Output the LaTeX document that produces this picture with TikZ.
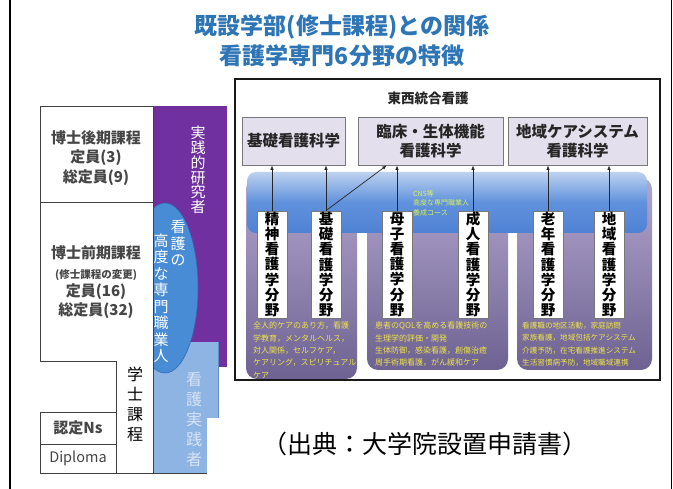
\documentclass[tikz,border=0pt]{standalone}
\usepackage{fontspec}
\setmainfont{Noto Sans CJK JP}
\usetikzlibrary{arrows.meta,calc}
\definecolor{titleblue}{RGB}{46,117,182}
\definecolor{vpurple}{RGB}{112,48,160}
\definecolor{mblue}{RGB}{72,140,214}
\definecolor{mbluedark}{RGB}{50,105,180}
\definecolor{lblue}{RGB}{141,180,226}
\definecolor{lbluedark}{RGB}{100,140,200}
\definecolor{boxfill}{RGB}{228,223,236}
\definecolor{boxline}{RGB}{120,120,120}
\definecolor{paneltop}{RGB}{178,165,206}
\definecolor{panelbot}{RGB}{110,98,146}
\definecolor{bandtop}{RGB}{190,210,240}
\definecolor{bandmid}{RGB}{95,145,220}
\definecolor{bandbot}{RGB}{80,130,212}
\definecolor{ylw}{RGB}{238,228,70}
\definecolor{cnsc}{RGB}{215,240,90}
\definecolor{tblgray}{RGB}{70,70,70}
\definecolor{lighttxt}{RGB}{215,228,245}
\tikzset{
  ttl/.style={font=\fontsize{23}{27}\selectfont\bfseries, text=titleblue, inner sep=0pt},
  tbl/.style={draw=black!75, line width=0.8pt},
  tbltxt/.style={font=\fontsize{15}{19.3}\selectfont\bfseries, text=tblgray, inner sep=0pt, align=center},
  vt/.style 2 args={font=\fontsize{#1}{#2}\selectfont, align=center, inner sep=0pt},
  topbox/.style={draw=boxline, fill=boxfill, line width=0.8pt, align=center,
     font=\fontsize{15.5}{19}\selectfont\bfseries, text=black!85, minimum height=48pt, inner sep=0pt},
  fieldbox/.style={draw=boxline, fill=white, line width=0.7pt, minimum width=30pt, minimum height=107pt, inner sep=0pt},
  fieldtxt/.style={align=center, font=\fontsize{14.5}{15.2}\selectfont\bfseries, inner sep=0pt},
  arr/.style={-{Latex[length=4.5pt,width=3.5pt]}, line width=0.7pt, black!85},
  panel/.style={top color=paneltop, bottom color=panelbot, rounded corners=11pt},
  ytxt/.style={font=\fontsize{8}{12.3}\selectfont, text=ylw, align=left, anchor=north west, inner sep=0pt},
}
\begin{document}
\begin{tikzpicture}[x=1pt,y=-1pt]
\useasboundingbox (0,0) rectangle (673,489);
\fill[white] (0,0) rectangle (673,489);

% frame lines
\draw[line width=1.4pt] (10,0) -- (10,489);
\draw[line width=0.8pt] (671.5,0) -- (671.5,489);

% title
\node[ttl] (t1) at (342,27) {既設学部(修士課程)との関係};
\node[ttl] (t2) at (342,56) {看護学専門6分野の特徴};

% ---------- left part ----------
\fill[vpurple] (153,106) rectangle (227,367);
\fill[lblue] (153,342) rectangle (218,473);
\draw[lbluedark, line width=0.6pt] (218,342) -- (218,473);
\begin{scope}
  \clip (153,150) rectangle (240,400);
  \fill[mblue] (165,288) ellipse [x radius=33, y radius=85];
  \draw[mbluedark, line width=0.6pt] (165,288) ellipse [x radius=33, y radius=85];
\end{scope}
\fill[white] (207,418) rectangle (252,478);

% table lines
\draw[tbl] (40,106) rectangle (153,202);
\draw[tbl] (40,202) -- (40,361) -- (116,361) -- (116,473) -- (207,473);
\draw[tbl] (153,106) -- (153,473);
\draw[tbl] (40,412) rectangle (116,444);
\draw[tbl] (40,444) rectangle (116,473);

% table texts
\node[tbltxt] (d1) at (96,158) {博士後期課程\\定員(3)\\総定員(9)};
\node[tbltxt] (m1) at (96,252.5) {博士前期課程};
\node[tbltxt, font=\fontsize{10.5}{12}\selectfont\bfseries] (m2) at (96,275) {(修士課程の変更)};
\node[tbltxt] (m3) at (96,301) {定員(16)\\総定員(32)};
\node[tbltxt] (ns) at (78,428) {認定Ns};
\node[tbltxt, font=\fontsize{14.5}{16}\selectfont] (dip) at (78,458) {Diploma};
\node[vt={16}{20}, text=black] (gs) at (135,404) {学\\士\\課\\程};

% vertical texts on coloured bars
\node[vt={15}{14.8}, text=white] (jr) at (198,170) {実\\践\\的\\研\\究\\者};
\node[vt={15}{16.5}, text=white] (kn) at (178,243) {看\\護\\の};
\node[vt={15}{16.5}, text=white] (kd) at (161,298) {高\\度\\な\\専\\門\\職\\業\\人};
\node[vt={16}{20}, text=lighttxt] (kj) at (194,419) {看\\護\\実\\践\\者};

% ---------- right part ----------
\shade[panel] (246,178) rectangle (357,379);
\shade[panel] (367,178) rectangle (508,370);
\shade[panel] (517,178) rectangle (652,370);
\shade[top color=bandtop, bottom color=bandbot, middle color=bandmid, rounded corners=9pt] (247,172) rectangle (647,233);

\node[font=\fontsize{13.5}{16}\selectfont\bfseries, text=black!85, inner sep=0pt] (tz) at (428,98) {東西統合看護};

\node[topbox, minimum width=103pt] (b1) at (293.5,141) {基礎看護科学};
\node[topbox, minimum width=145pt] (b2) at (430.5,141) {臨床・生体機能\\看護科学};
\node[topbox, minimum width=139pt] (b3) at (577.5,141) {地域ケアシステム\\看護科学};

\node[fieldbox] (f1) at (272,264.5) {};
\node[fieldbox] (f2) at (326,264.5) {};
\node[fieldbox] (f3) at (397,264.5) {};
\node[fieldbox] (f4) at (473,264.5) {};
\node[fieldbox] (f5) at (548,264.5) {};
\node[fieldbox] (f6) at (609,264.5) {};
\node[fieldtxt] (g1) at (f1) {精\\神\\看\\護\\学\\分\\野};
\node[fieldtxt] (g2) at (f2) {基\\礎\\看\\護\\学\\分\\野};
\node[fieldtxt] (g3) at (f3) {母\\子\\看\\護\\学\\分\\野};
\node[fieldtxt] (g4) at (f4) {成\\人\\看\\護\\学\\分\\野};
\node[fieldtxt] (g5) at (f5) {老\\年\\看\\護\\学\\分\\野};
\node[fieldtxt] (g6) at (f6) {地\\域\\看\\護\\学\\分\\野};

\draw[arr] (f1.north) -- (f1.north |- b1.south);
\draw[arr] (f2.north) -- (f2.north |- b1.south);
\draw[arr] (f2.north) -- ($(b2.south west)!0.2!(b2.south east)$);
\draw[arr] (f3.north) -- (f3.north |- b2.south);
\draw[arr] (f4.north) -- (f4.north |- b2.south);
\draw[arr] (f5.north) -- (f5.north |- b3.south);
\draw[arr] (f6.north) -- (f6.north |- b3.south);

\node[font=\fontsize{7}{9.5}\selectfont, text=cnsc, align=left, anchor=north west, inner sep=0pt] (cns) at (413,190)
  {CNS等\\高度な専門職業人\\養成コース};

\node[ytxt] (y1) at (253,322) {全人的ケアのあり方，看護\\学教育，メンタルヘルス，\\対人関係，セルフケア，\\ケアリング，スピリチュアル\\ケア};
\node[ytxt] (y2) at (375,322) {患者のQOLを高める看護技術の\\生理学的評価・開発\\生体防御，感染看護，創傷治癒\\周手術期看護，がん緩和ケア};
\node[ytxt, font=\fontsize{7.6}{12.3}\selectfont] (y3) at (522,322) {看護職の地区活動，家庭訪問\\家族看護，地域包括ケアシステム\\介護予防，在宅看護推進システム\\生活習慣病予防，地域職域連携};

\draw[line width=1.6pt, black!90] (235,79) rectangle (660,380);

% source
\node[font=\fontsize{25}{28}\selectfont, inner sep=0pt] (src) at (425,444) {（出典：大学院設置申請書）};
\end{tikzpicture}
\end{document}
